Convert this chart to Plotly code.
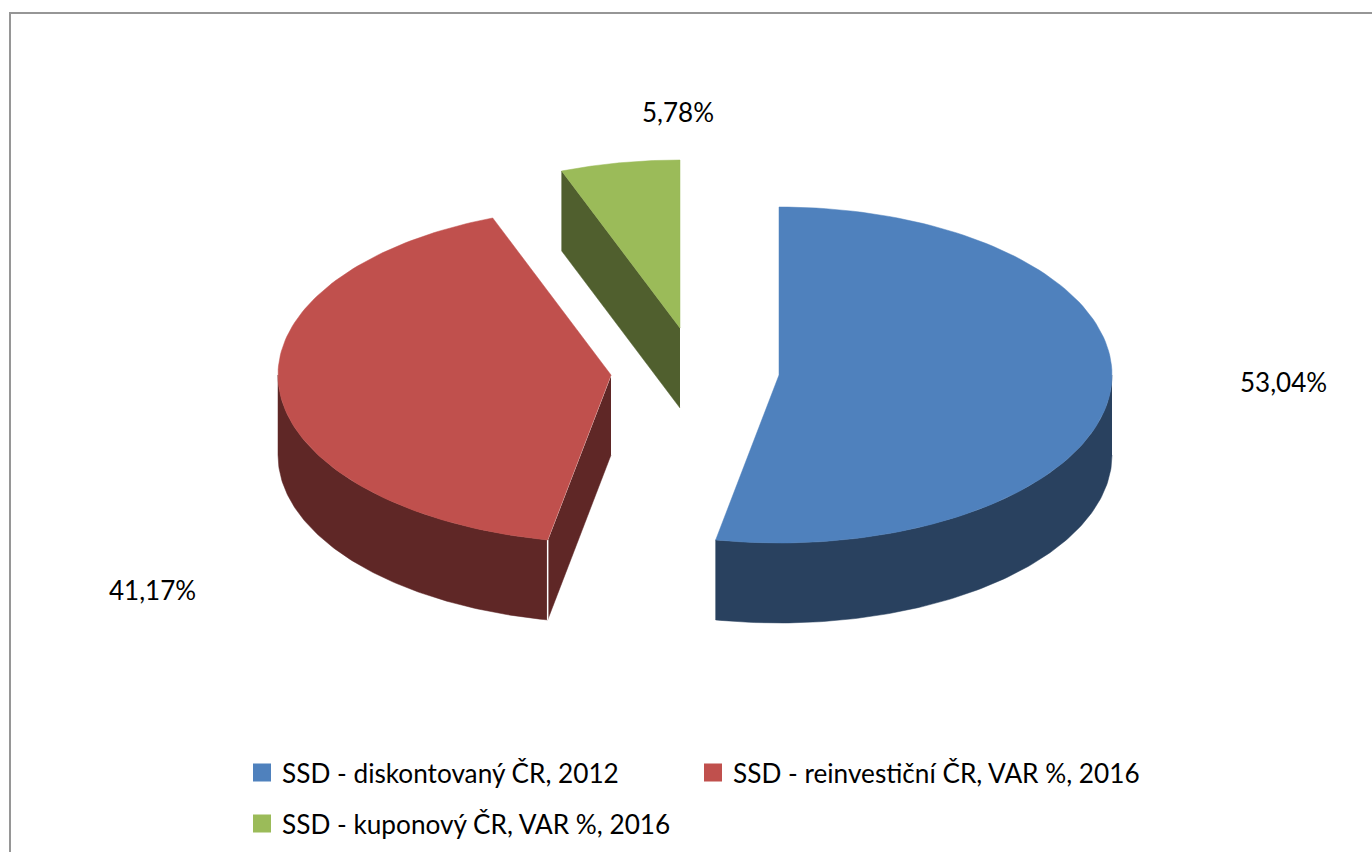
import numpy as np
import plotly.graph_objects as go

# data
labels = ["SSD - diskontovaný ČR, 2012", "SSD - reinvestiční ČR, VAR %, 2016", "SSD - kuponový ČR, VAR %, 2016"]
shares = [53.04, 41.17, 5.78]
top_colors = ["#4F81BD", "#C0504D", "#9BBB59"]
side_colors = ["#29415F", "#5F2726", "#505F2E"]

# pie drawn in pixel coords: centre of each exploded slice, ellipse radii, wall height
centers = [(779, 375), (611, 375), (680, 328)]
rx, ry, depth = 333, 168, 80

label_pos = [(1283, 382), (152, 590), (678, 112)]
legend_pos = [(242, 773), (693, 773), (242, 824)]


def arc(cx, cy, a0, a1, dy=0):
    t = np.radians(np.linspace(a0, a1, 120))
    return cx + rx * np.sin(t), cy - ry * np.cos(t) + dy


def polygon(x, y, color, line=None):
    return go.Scatter(x=x, y=y, mode="lines", fill="toself", fillcolor=color,
                      line=dict(color=line or color, width=0.5),
                      hoverinfo="skip", showlegend=False)


# slice angles, clockwise from 12 o'clock
total = sum(shares)
edges = np.cumsum([0] + shares) / total * 360

fig = go.Figure()

# blue outer wall
cx, cy = centers[0]
a1 = edges[1]
xa, ya = arc(cx, cy, 90, a1)
xb, yb = arc(cx, cy, a1, 90, depth)
fig.add_trace(polygon(np.r_[xa, xb], np.r_[ya, yb], side_colors[0]))

# red outer wall and cut wall
cx, cy = centers[1]
a0, a1 = edges[1], edges[2]
xa, ya = arc(cx, cy, a0, 270)
xb, yb = arc(cx, cy, 270, a0, depth)
fig.add_trace(polygon(np.r_[xa, xb], np.r_[ya, yb], side_colors[1]))
xs, ys = arc(cx, cy, a0, a0)
fig.add_trace(polygon([cx, xs[0], xs[0], cx], [cy, ys[0], ys[0] + depth, cy + depth], side_colors[1]))
fig.add_trace(go.Scatter(x=[xs[0], xs[0]], y=[ys[0], ys[0] + depth], mode="lines",
                         line=dict(color="white", width=1.5), hoverinfo="skip", showlegend=False))
fig.add_trace(go.Scatter(x=[cx, xs[0]], y=[cy, ys[0]], mode="lines",
                         line=dict(color="white", width=1), hoverinfo="skip", showlegend=False))

# green cut wall
cx, cy = centers[2]
a0 = edges[2]
xs, ys = arc(cx, cy, a0, a0)
fig.add_trace(polygon([cx, xs[0], xs[0], cx], [cy, ys[0], ys[0] + depth, cy + depth], side_colors[2]))

# top faces
for i in range(3):
    cx, cy = centers[i]
    xa, ya = arc(cx, cy, edges[i], edges[i + 1])
    fig.add_trace(polygon(np.r_[cx, xa, cx], np.r_[cy, ya, cy], top_colors[i]))

# one legend per entry so that each row sits where it does in the original
for i in range(3):
    fig.add_trace(go.Scatter(x=[None], y=[None], mode="markers", name=labels[i],
                             marker=dict(symbol="square", size=16, color=top_colors[i],
                                         line=dict(color=top_colors[i], width=2)),
                             legend="legend" if i == 0 else "legend%d" % (i + 1)))

annotations = []
for i in range(3):
    annotations.append(dict(x=label_pos[i][0], y=label_pos[i][1], xref="x", yref="y",
                            text=("%.2f%%" % shares[i]).replace(".", ","), showarrow=False,
                            font=dict(family="Lato", size=26, color="#000000")))

legends = {}
for i in range(3):
    key = "legend" if i == 0 else "legend%d" % (i + 1)
    legends[key] = dict(x=legend_pos[i][0] / 1372, y=1 - legend_pos[i][1] / 852,
                        xanchor="left", yanchor="middle", bgcolor="rgba(0,0,0,0)",
                        font=dict(family="Lato", size=26.2, color="#000000"),
                        itemclick=False, itemdoubleclick=False)

fig.update_layout(
    width=1372, height=852, margin=dict(l=0, r=0, t=0, b=0),
    paper_bgcolor="white", plot_bgcolor="white",
    xaxis=dict(range=[0, 1372], visible=False, fixedrange=True),
    yaxis=dict(range=[852, 0], visible=False, fixedrange=True),
    annotations=annotations,
    shapes=[dict(type="line", x0=10, x1=1372, y0=13, y1=13, line=dict(color="#969696", width=2)),
            dict(type="line", x0=10, x1=10, y0=12, y1=852, line=dict(color="#969696", width=2))],
    showlegend=True,
    **legends,
)

# page margin off, the picture fills the window exactly
fig.write_html("out.html", config={"displayModeBar": False},
               post_script="document.body.style.margin='0';document.body.style.overflow='hidden';")
